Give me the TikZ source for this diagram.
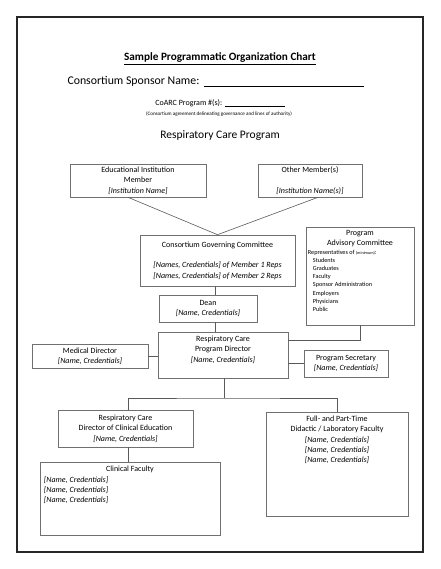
\documentclass[tikz,border=0pt]{standalone}
\usepackage{fontspec}
\setmainfont{Carlito}
\usetikzlibrary{positioning}

\definecolor{boxgray}{HTML}{707070}
\definecolor{linegray}{HTML}{5A5A5A}
\definecolor{framegray}{HTML}{262626}
\newcommand{\boxfont}{\fontsize{8}{10.3}\selectfont}
\newcommand{\listfont}{\fontsize{6.2}{8.2}\selectfont}
\newcommand{\namecred}{\textit{[Name, Credentials]}}

\begin{document}
\begin{tikzpicture}[x=1pt,y=-1pt,
    orgbox/.style={draw=boxgray,line width=0.6pt,align=center,font=\boxfont,inner sep=2pt},
    boxtext/.style={font=\boxfont,inner sep=0pt},
    link/.style={draw=linegray,line width=0.6pt}]
    \useasboundingbox (0,0) rectangle (440,569);
    % Draw page frame
    \draw[framegray,line width=1.5pt] (17,17) rectangle (423,552);
    % Header lines
    \node (title) at (220,59) {\fontsize{11.2}{13}\selectfont\bfseries\underline{Sample Programmatic Organization Chart}};
    \node[anchor=west] (sponsor) at (64,81) {\fontsize{11.8}{13}\selectfont Consortium Sponsor Name:\hspace{5pt}\rule[-2pt]{160pt}{0.5pt}};
    \node (coarc) at (220,103) {\boxfont CoARC Program \#(s): \rule[-1pt]{60pt}{0.4pt}};
    \node (agree) at (219,114) {\fontsize{5.1}{6}\selectfont (Consortium agreement delineating governance and lines of authority)};
    \node (program) at (220,136) {\fontsize{11.5}{13}\selectfont Respiratory Care Program};
    % Member boxes
    \node[orgbox,minimum width=136,minimum height=33] (edu) at (138,180.5)
        {Educational Institution\\Member\\\textit{[Institution Name]}};
    \node[orgbox,minimum width=104,minimum height=33] (oth) at (310,180.5)
        {Other Member(s)\\~\\\textit{[Institution Name(s)]}};
    % Committees
    \node[orgbox,minimum width=155,minimum height=51] (cgc) at (217.5,260.5)
        {Consortium Governing Committee\\~\\\textit{[Names, Credentials] of Member 1 Reps}\\\textit{[Names, Credentials] of Member 2 Reps}};
    \node[orgbox,minimum width=108,minimum height=98] (pac) at (360,276) {};
    \node[boxtext,align=center,anchor=north] (pachead) at ([yshift=-3pt]pac.north)
        {Program\\Advisory Committee};
    \node[inner sep=0pt,font=\listfont,align=left,anchor=north west] (pacreps) at ([xshift=2pt,yshift=-23pt]pac.north west)
        {Representatives of {\fontsize{4.2}{5}\selectfont(minimum)}:\\\hspace*{5pt}Students\\\hspace*{5pt}Graduates\\\hspace*{5pt}Faculty\\
         \hspace*{5pt}Sponsor Administration\\\hspace*{5pt}Employers\\\hspace*{5pt}Physicians\\\hspace*{5pt}Public};
    % Program staff
    \node[orgbox,minimum width=98,minimum height=27] (dean) at (208,308.5)
        {Dean\\\namecred};
    \node[orgbox,minimum width=130,minimum height=46] (rcpd) at (223,355) {};
    \node[boxtext,align=center,anchor=north] (rcpdtext) at ([yshift=-4pt]rcpd.north)
        {Respiratory Care\\Program Director\\\namecred};
    \node[orgbox,minimum width=116,minimum height=24] (med) at (90,356)
        {Medical Director\\\namecred};
    \node[orgbox,minimum width=84,minimum height=27] (sec) at (346,363.5)
        {Program Secretary\\\namecred};
    \node[orgbox,minimum width=135,minimum height=37] (dce) at (125.5,428.5)
        {Respiratory Care\\Director of Clinical Education\\\namecred};
    % Faculty boxes
    \node[orgbox,minimum width=180,minimum height=73] (clin) at (130,498.5) {};
    \node[boxtext,anchor=north] (clinhead) at ([yshift=-4pt]clin.north) {Clinical Faculty};
    \node[boxtext,align=left,anchor=north west] (clinlist) at ([xshift=4pt,yshift=-14.5pt]clin.north west)
        {\namecred\\\namecred\\\namecred};
    \node[orgbox,minimum width=142,minimum height=104] (did) at (337,464) {};
    \node[boxtext,align=center,anchor=north] (didtext) at ([yshift=-4pt]did.north)
        {Full- and Part-Time\\Didactic / Laboratory Faculty\\\namecred\\\namecred\\\namecred};
    % Draw connectors
    \coordinate (spine) at (215,0);
    \coordinate (split) at (224,398);
    \draw[link] ([xshift=-10pt]edu.south) -- (cgc.north);
    \draw[link] ([xshift=8pt]oth.south) -- (cgc.north);
    \draw[link] (cgc.south -| spine) -- (dean.north -| spine);
    \draw[link] (dean.south -| spine) -- (rcpd.north -| spine);
    \draw[link] (pac.south) |- ([yshift=15pt]rcpd.east);
    \draw[link] (sec.west -| rcpd.east) -- (sec.west);
    \draw[link] (med.east) -- (med.east -| rcpd.west);
    \draw[link] (rcpd.south -| split) -- (split);
    \draw[link] ([xshift=3pt]dce.north) |- (split) -| (did.north);
    \draw[link] ([xshift=3pt]dce.south) -- ([xshift=3pt]dce.south |- clin.north);
\end{tikzpicture}
\end{document}
